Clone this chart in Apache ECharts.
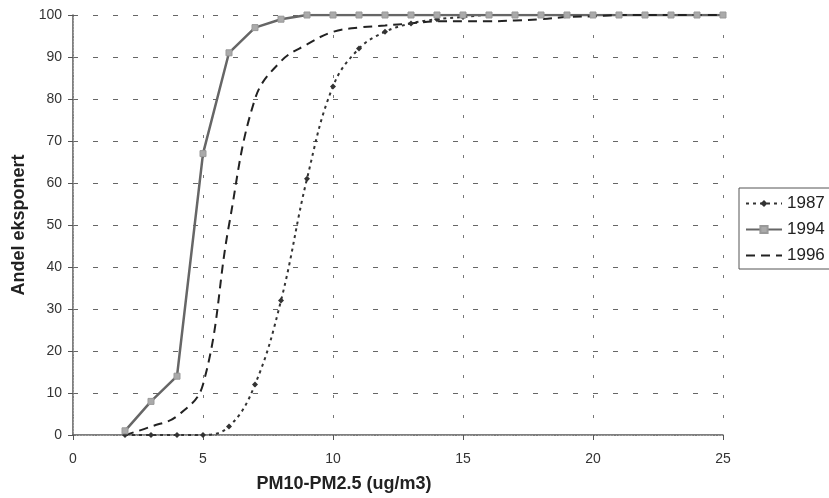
<!DOCTYPE html>
<html>
<head>
<meta charset="utf-8">
<script src="https://cdn.jsdelivr.net/npm/echarts@6/dist/echarts.min.js"></script>
<style>
html,body{margin:0;padding:0;background:#fff;}
#chart{width:829px;height:498px;}
</style>
</head>
<body>
<div id="chart"></div>
<script>
// Data
const xValues = [2,3,4,5,6,7,8,9,10,11,12,13,14,15,16,17,18,19,20,21,22,23,24,25];
const s1987 = [0,0,0,0,2,12,32,61,83,92,96,98,99,99.5,100,100,100,100,100,100,100,100,100,100];
const s1994 = [1,8,14,67,91,97,99,100,100,100,100,100,100,100,100,100,100,100,100,100,100,100,100,100];
const s1996 = [0,2,4.5,12,50,80,89,93,96,97,97.5,98,98.5,98.5,98.5,98.7,99,99.5,99.7,100,100,100,100,100];
const seriesNames = ['1987','1994','1996'];
const xTitle = 'PM10-PM2.5 (ug/m3)';
const yTitle = 'Andel eksponert';

function pairs(vals){ return xValues.map((x,i)=>[x, vals[i]]); }

const FONT = 'Liberation Sans, Arial, sans-serif';
const chart = echarts.init(document.getElementById('chart'), null, {renderer:'canvas'});
chart.setOption({
  animation:false,
  backgroundColor:'#fff',
  textStyle:{fontFamily:FONT},
  grid:{left:73,right:106,top:15,bottom:61,containLabel:false},
  legend:{
    orient:'vertical', left:739, top:188,
    padding:[7,6,5,6], itemGap:9, itemWidth:36, itemHeight:9,
    borderColor:'#555', borderWidth:1,
    textStyle:{fontSize:17, color:'#222', fontFamily:FONT},
    data:[
      {name:seriesNames[0]},
      {name:seriesNames[1]},
      {name:seriesNames[2], itemStyle:{opacity:0}}
    ]
  },
  xAxis:[{
    type:'value', min:0, max:25, interval:5,
    name:xTitle, nameLocation:'middle', nameGap:40,
    nameTextStyle:{fontSize:18, fontWeight:'bold', color:'#222', padding:[0,108,0,0]},
    axisLine:{lineStyle:{color:'#555', width:1.5}},
    axisTick:{show:true, length:5, lineStyle:{color:'#555'}},
    axisLabel:{fontSize:14, color:'#333', margin:17},
    splitLine:{show:true, lineStyle:{color:'#777', type:[3,17], width:1}}
  },{
    type:'value', min:0, max:25, position:'top',
    axisLine:{show:true, lineStyle:{color:'#aaa', type:[1,2], width:1}},
    axisTick:{show:false}, axisLabel:{show:false}, splitLine:{show:false}
  }],
  yAxis:[{
    type:'value', min:0, max:100, interval:10,
    name:yTitle, nameLocation:'middle', nameGap:45,
    nameTextStyle:{fontSize:18, fontWeight:'bold', color:'#222'},
    axisLine:{show:true, lineStyle:{color:'#555', width:1.5}},
    axisTick:{show:true, length:5, lineStyle:{color:'#555'}},
    axisLabel:{fontSize:14, color:'#333', margin:11},
    splitLine:{show:true, lineStyle:{color:'#666', type:[5,15], width:1}}
  },{
    type:'value', min:0, max:100, position:'right',
    axisLine:{show:true, lineStyle:{color:'#aaa', type:[1,2], width:1}},
    axisTick:{show:false}, axisLabel:{show:false}, splitLine:{show:false}
  }],
  series:[
    {
      name:'1987', type:'line', data:pairs(s1987), smooth:0.4,
      symbol:'diamond', symbolSize:6, showSymbol:true,
      itemStyle:{color:'#333'},
      lineStyle:{color:'#333', width:2, type:[3,4]}
    },
    {
      name:'1994', type:'line', data:pairs(s1994), smooth:false,
      symbol:'rect', symbolSize:6, showSymbol:true,
      itemStyle:{color:'#aaa', borderColor:'#999', borderWidth:1},
      lineStyle:{color:'#666', width:2.5, type:'solid'}
    },
    {
      name:'1996', type:'line', data:pairs(s1996), smooth:0.4,
      symbol:'none',
      itemStyle:{color:'#222'},
      lineStyle:{color:'#222', width:2, type:[9,6]}
    }
  ]
});
</script>
</body>
</html>
